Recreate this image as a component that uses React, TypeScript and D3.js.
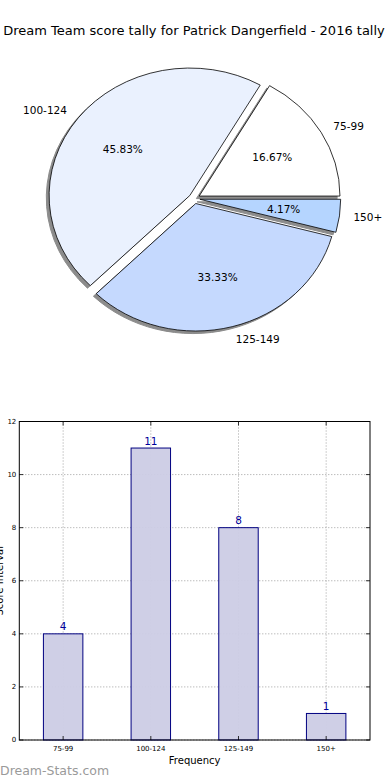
import React from "react";
import * as d3 from "d3";

const categories = ["75-99", "100-124", "125-149", "150+"];
const counts = [4, 11, 8, 1];
const pieColors = ["#ffffff", "#eaf1fe", "#c5d9fe", "#b5d5ff"];
const explode = [0.04, 0.04, 0.04, 0.04];
const yTicks = [0, 2, 4, 6, 8, 10, 12];

const W = 390;
const H = 780;
const FONT = "DejaVu Sans, sans-serif";

export default function App() {
  // ---- pie ----
  const cx = 194.3;
  const cy = 198.6;
  const rx = 140.8;
  const ry = 127.5;
  const total = d3.sum(counts);
  const pie = d3
    .pie<number>()
    .sort(null)
    .startAngle(Math.PI / 2)
    .endAngle(Math.PI / 2 - 2 * Math.PI);
  const arcs = pie(counts);
  const arcGen = d3.arc<any>().innerRadius(0).outerRadius(1);

  const slices = arcs.map((a, i) => {
    const mid = (a.startAngle + a.endAngle) / 2;
    const ux = Math.sin(mid);
    const uy = -Math.cos(mid);
    const ox = cx + explode[i] * rx * ux;
    const oy = cy + explode[i] * ry * uy;
    const path = arcGen({
      startAngle: Math.min(a.startAngle, a.endAngle),
      endAngle: Math.max(a.startAngle, a.endAngle),
    }) as string;
    return { i, ux, uy, ox, oy, path };
  });

  // ---- bars ----
  const left = 19.3;
  const right = 370;
  const top = 421.5;
  const bottom = 740;
  const x = d3.scaleLinear().domain([-0.5, categories.length - 0.5]).range([left, right]);
  const y = d3.scaleLinear().domain([0, 12]).range([bottom, top]);
  const barW = 0.45;

  return (
    <svg
      width={W}
      height={H}
      style={{ position: "absolute", left: 0, top: 0, background: "#fff" }}
      fontFamily={FONT}
    >
      <text x={194} y={34.5} fontSize={13} textAnchor="middle" fill="#000">
        Dream Team score tally for Patrick Dangerfield - 2016 tally
      </text>

      {/* shadows */}
      {slices.map((s) => (
        <path
          key={"sh" + s.i}
          d={s.path}
          transform={`translate(${s.ox - 0.02 * rx},${s.oy + 0.02 * ry}) scale(${rx},${ry})`}
          fill="#8c8c8c"
          stroke="#8c8c8c"
          strokeWidth={1}
          vectorEffect="non-scaling-stroke"
        />
      ))}
      {slices.map((s) => (
        <path
          key={"sl" + s.i}
          d={s.path}
          transform={`translate(${s.ox},${s.oy}) scale(${rx},${ry})`}
          fill={pieColors[s.i]}
          stroke="#000"
          strokeWidth={0.8}
          strokeLinejoin="round"
          vectorEffect="non-scaling-stroke"
        />
      ))}
      {slices.map((s) => {
        const lx = s.ox + 1.1 * rx * s.ux;
        const ly = s.oy + 1.1 * ry * s.uy;
        const px = s.ox + 0.6 * rx * s.ux;
        const py = s.oy + 0.6 * ry * s.uy;
        const pct = ((counts[s.i] / total) * 100).toFixed(2) + "%";
        return (
          <g key={"lb" + s.i} fontSize={10.5} fill="#000">
            <text x={lx} y={ly} dy="0.35em" textAnchor={s.ux > 0 ? "start" : "end"}>
              {categories[s.i]}
            </text>
            <text x={px} y={py} dy="0.35em" textAnchor="middle">
              {pct}
            </text>
          </g>
        );
      })}

      {/* bar chart grid */}
      {yTicks.map((t) => (
        <line
          key={"gy" + t}
          x1={left}
          x2={right}
          y1={y(t)}
          y2={y(t)}
          stroke="#a0a0a0"
          strokeWidth={1}
          strokeDasharray="1,2"
        />
      ))}
      {categories.map((c, i) => (
        <line
          key={"gx" + c}
          x1={x(i)}
          x2={x(i)}
          y1={top}
          y2={bottom}
          stroke="#a0a0a0"
          strokeWidth={1}
          strokeDasharray="1,2"
        />
      ))}

      {/* bars */}
      {counts.map((v, i) => (
        <g key={"b" + i}>
          <rect
            x={x(i - barW / 2)}
            y={y(v)}
            width={x(barW) - x(0)}
            height={y(0) - y(v)}
            fill="#ccccE5"
            fillOpacity={0.95}
            stroke="#000080"
            strokeWidth={1}
          />
          <text
            x={x(i)}
            y={y(v) - 3.5}
            textAnchor="middle"
            fontSize={10.5}
            fill="#000099"
          >
            {v}
          </text>
        </g>
      ))}

      {/* ticks */}
      {yTicks.map((t) => (
        <g key={"ty" + t}>
          <line x1={left} x2={left + 4} y1={y(t)} y2={y(t)} stroke="#000" strokeWidth={0.8} />
          <line x1={right} x2={right - 4} y1={y(t)} y2={y(t)} stroke="#000" strokeWidth={0.8} />
          <text x={left - 3} y={y(t)} dy="0.35em" textAnchor="end" fontSize={7} fill="#000">
            {t}
          </text>
        </g>
      ))}
      {categories.map((c, i) => (
        <g key={"tx" + c}>
          <line x1={x(i)} x2={x(i)} y1={bottom} y2={bottom - 4} stroke="#000" strokeWidth={0.8} />
          <line x1={x(i)} x2={x(i)} y1={top} y2={top + 4} stroke="#000" strokeWidth={0.8} />
          <text x={x(i)} y={bottom + 10.5} textAnchor="middle" fontSize={7} fill="#000">
            {c}
          </text>
        </g>
      ))}

      {/* frame */}
      <rect
        x={left}
        y={top}
        width={right - left}
        height={bottom - top}
        fill="none"
        stroke="#000"
        strokeWidth={1}
      />

      <text x={(left + right) / 2} y={764} textAnchor="middle" fontSize={10} fill="#000">
        Frequency
      </text>
      <text
        transform={`translate(3,${(top + bottom) / 2}) rotate(-90)`}
        textAnchor="middle"
        fontSize={10}
        fill="#000"
      >
        Score Interval
      </text>

      <text x={0} y={775} fontSize={12.5} fill="#9a9a9a">
        Dream-Stats.com
      </text>
    </svg>
  );
}
